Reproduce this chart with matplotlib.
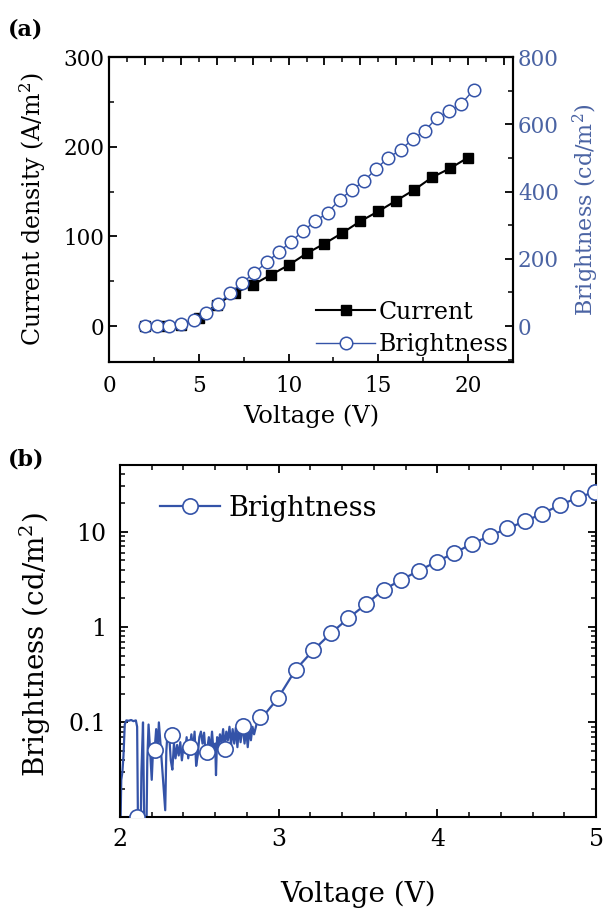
import matplotlib
matplotlib.use('Agg')
import matplotlib.pyplot as plt
from matplotlib.ticker import MultipleLocator, LogLocator, NullFormatter, FixedLocator, FixedFormatter

plt.rcParams['font.family'] = 'DejaVu Serif'
plt.rcParams['mathtext.fontset'] = 'dejavuserif'
plt.rcParams['xtick.direction'] = 'in'
plt.rcParams['ytick.direction'] = 'in'
plt.rcParams['axes.linewidth'] = 1.5

BLUE = '#3453a8'
BLUE_TXT = '#4a63a3'

# ---- panel (a) data ----
cur_v = [2, 3, 4, 5, 6, 7, 8, 9, 10, 11, 12, 13, 14, 15, 16, 17, 18, 19, 20]
cur_j = [0.7, 0.5, 0.8, 9, 24, 37, 46, 57, 68, 81, 92, 104, 117, 128, 140, 152, 166, 176, 188]

bri_v = [2.00, 2.68, 3.36, 4.03, 4.71, 5.39, 6.07, 6.75, 7.42, 8.10, 8.78, 9.46, 10.14, 10.81,
         11.49, 12.17, 12.85, 13.53, 14.20, 14.88, 15.56, 16.24, 16.92, 17.59, 18.27, 18.95,
         19.63, 20.31]
bri_l = [0, 0, 0, 7, 17, 39, 65, 98, 129, 158, 190, 220, 251, 283, 312, 337, 376, 405, 431,
         468, 501, 524, 556, 581, 620, 639, 661, 703]

# ---- panel (b) data ----
# circles (sampled points)
log_v = [2.107, 2.218, 2.329, 2.440, 2.551, 2.662, 2.773, 2.884, 2.995, 3.107, 3.218, 3.329,
         3.440, 3.551, 3.662, 3.773, 3.884, 3.995, 4.106, 4.217, 4.329, 4.440, 4.551, 4.662,
         4.773, 4.884, 4.995]
log_b = [0.0103, 0.051, 0.074, 0.055, 0.049, 0.053, 0.092, 0.113, 0.179, 0.357, 0.571, 0.859,
         1.24, 1.74, 2.46, 3.13, 3.90, 4.85, 5.95, 7.46, 9.0, 10.8, 12.8, 15.5, 19.0, 22.7, 26.2]

# noisy raw trace at low voltage
raw_v = [2.000, 2.008, 2.015, 2.022, 2.030, 2.040, 2.055, 2.070, 2.085, 2.100, 2.108, 2.115,
         2.128, 2.135, 2.145, 2.155, 2.165, 2.172, 2.180, 2.190, 2.200, 2.210, 2.218, 2.228,
         2.236, 2.245, 2.255, 2.265, 2.285, 2.292, 2.300, 2.310, 2.320, 2.330, 2.340, 2.350,
         2.360, 2.370, 2.380, 2.390, 2.400, 2.410, 2.420, 2.430, 2.440, 2.450, 2.460, 2.470,
         2.480, 2.490, 2.500, 2.510, 2.520, 2.530, 2.540, 2.550, 2.560, 2.570, 2.580, 2.590,
         2.600, 2.605, 2.612, 2.620, 2.630, 2.640, 2.650, 2.660, 2.670, 2.680, 2.690, 2.700,
         2.710, 2.720, 2.730, 2.740, 2.750, 2.760, 2.773, 2.785, 2.795, 2.805, 2.815, 2.825,
         2.835, 2.845, 2.860]
raw_b = [0.004, 0.025, 0.030, 0.045, 0.095, 0.105, 0.104, 0.106, 0.103, 0.105, 0.090, 0.004,
         0.004, 0.030, 0.100, 0.004, 0.004, 0.040, 0.095, 0.050, 0.025, 0.060, 0.051, 0.085,
         0.045, 0.100, 0.060, 0.035, 0.012, 0.050, 0.080, 0.074, 0.040, 0.032, 0.060, 0.042,
         0.058, 0.045, 0.062, 0.040, 0.055, 0.048, 0.070, 0.042, 0.055, 0.075, 0.050, 0.080,
         0.035, 0.045, 0.070, 0.080, 0.060, 0.078, 0.045, 0.053, 0.070, 0.050, 0.080, 0.048,
         0.060, 0.028, 0.070, 0.055, 0.075, 0.060, 0.085, 0.055, 0.080, 0.065, 0.090, 0.058,
         0.085, 0.060, 0.088, 0.055, 0.090, 0.062, 0.092, 0.060, 0.088, 0.055, 0.085, 0.065,
         0.090, 0.075, 0.095]

fig = plt.figure(figsize=(6.03, 9.13), dpi=100)

# ================= (a) =================
ax1 = fig.add_axes([0.1808, 0.6035, 0.670, 0.334])
ax1.plot(cur_v, cur_j, color='black', lw=1.5, marker='s', ms=7, mfc='black', mec='black',
         label='Current', zorder=3)
ax1.set_xlim(0, 22.5)
ax1.set_ylim(-40, 300)
ax1.xaxis.set_major_locator(MultipleLocator(5))
ax1.xaxis.set_minor_locator(MultipleLocator(2.5))
ax1.yaxis.set_major_locator(MultipleLocator(100))
ax1.yaxis.set_minor_locator(MultipleLocator(50))
ax1.tick_params(which='major', length=6, width=1.3, labelsize=15.5, top=False, right=False)
ax1.tick_params(which='minor', length=3.5, width=1.1, top=False, right=False)
ax1.tick_params(axis='x', pad=9)
ax1.set_xlabel('Voltage (V)', fontsize=17.5)
ax1.set_ylabel('Current density (A/m$^2$)', fontsize=17)
ax1.xaxis.set_label_coords(0.5, -0.14)
ax1.yaxis.set_label_coords(-0.152, 0.5)

top = ax1.secondary_xaxis('top')
top.xaxis.set_major_locator(MultipleLocator(2))
top.xaxis.set_minor_locator(MultipleLocator(1))
top.tick_params(which='major', length=6, width=1.3, labeltop=False)
top.tick_params(which='minor', length=3.5, width=1.1)
top.set_xticklabels([])

ax1r = ax1.twinx()
ax1r.plot(bri_v, bri_l, color=BLUE, lw=1.0, marker='o', ms=9, mfc='white', mec=BLUE,
          mew=1.1, label='Brightness', zorder=4)
ax1r.set_ylim(-107, 800)
ax1r.yaxis.set_major_locator(MultipleLocator(200))
ax1r.yaxis.set_minor_locator(MultipleLocator(100))
ax1r.tick_params(which='major', length=6, width=1.3, labelsize=15.5, labelcolor=BLUE_TXT)
ax1r.tick_params(which='minor', length=3.5, width=1.1)
ax1r.set_ylabel('Brightness (cd/m$^2$)', fontsize=16, color=BLUE_TXT)
ax1r.yaxis.set_label_coords(1.142, 0.5)

h1, l1 = ax1.get_legend_handles_labels()
h2, l2 = ax1r.get_legend_handles_labels()
ax1r.legend(h1 + h2, l1 + l2, loc='lower right', bbox_to_anchor=(1.03, -0.035), frameon=False,
            fontsize=17, handlelength=2.5, handletextpad=0.15, labelspacing=0.4, borderpad=0.2)

fig.text(0.013, 0.968, '(a)', fontsize=16, fontweight='bold', va='center')

# ================= (b) =================
ax2 = fig.add_axes([0.199, 0.1052, 0.7894, 0.3855])
ax2.plot(raw_v + log_v[8:], raw_b + log_b[8:], color=BLUE, lw=1.6, zorder=2)
ax2.plot(log_v, log_b, ls='none', marker='o', ms=11, mfc='white', mec=BLUE, mew=1.2, zorder=3)
ax2.plot([], [], color=BLUE, lw=1.6, marker='o', ms=11, mfc='white', mec=BLUE, mew=1.2,
         label='Brightness')
ax2.set_yscale('log')
ax2.set_xlim(2, 5)
ax2.set_ylim(0.0102, 50)
ax2.xaxis.set_major_locator(MultipleLocator(1))
ax2.xaxis.set_minor_locator(MultipleLocator(0.2))
ax2.yaxis.set_major_locator(FixedLocator([0.1, 1, 10]))
ax2.yaxis.set_major_formatter(FixedFormatter(['0.1', '1', '10']))
ax2.yaxis.set_minor_locator(LogLocator(base=10, subs=range(2, 10)))
ax2.yaxis.set_minor_formatter(NullFormatter())
ax2.tick_params(which='major', length=6, width=1.3, labelsize=17, top=True, right=True)
ax2.tick_params(which='minor', length=3.5, width=1.1, top=True, right=True)
ax2.tick_params(axis='x', pad=8)
ax2.tick_params(axis='y', pad=10)
ax2.set_xlabel('Voltage (V)', fontsize=20)
ax2.set_ylabel('Brightness (cd/m$^2$)', fontsize=20)
ax2.xaxis.set_label_coords(0.5, -0.18)
ax2.yaxis.set_label_coords(-0.14, 0.49)
ax2.legend(loc='upper left', bbox_to_anchor=(0.045, 0.97), frameon=False, fontsize=19.5,
           handlelength=2.2, handletextpad=0.3, borderpad=0.2)

fig.text(0.013, 0.497, '(b)', fontsize=16, fontweight='bold', va='center')

fig.savefig('out.png', dpi=100)
